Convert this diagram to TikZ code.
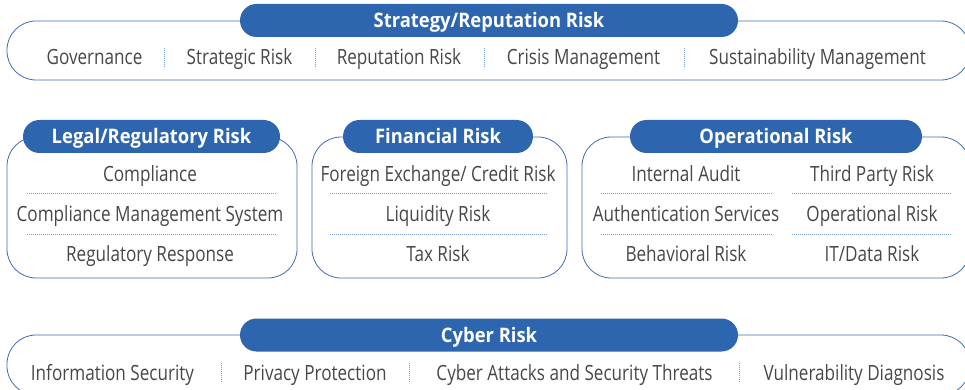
\documentclass[tikz,border=0pt]{standalone}
\usepackage{fontspec}
\setmainfont{Open Sans}[FakeStretch=0.815]
\newfontfamily\headfont{Open Sans}[FakeStretch=0.92]
\usetikzlibrary{positioning}
\definecolor{riskblue}{HTML}{2D66AF}
\definecolor{lineblue}{HTML}{3C6EB4}
\definecolor{dotblue}{HTML}{7E9FD3}
\definecolor{textgray}{HTML}{474747}

\begin{document}
\begin{tikzpicture}[
    x=1pt, y=-1pt,
    frame/.style={draw=lineblue, line width=0.8pt, rounded corners=29pt},
    cathead/.style={fill=riskblue, text=white, rounded corners=16.5pt,
                    minimum height=33pt, inner sep=0pt, text height=16pt, text depth=2pt,
                    font=\headfont\fontsize{20}{24}\selectfont\bfseries},
    item/.style={text=textgray, anchor=base, inner sep=0pt,
                 font=\fontsize{21}{25}\selectfont},
    sep/.style={draw=dotblue, line width=0.9pt, dash pattern=on 0.9pt off 1.1pt},
  ]
  \useasboundingbox (0,0) rectangle (965,390);

  % outlines
  \draw[frame] (7,21) rectangle (970,80);
  \draw[frame] (7,137) rectangle (297,278);
  \draw[frame] (312,137) rectangle (567,278);
  \draw[frame] (582,137) rectangle (970,278);
  \draw[frame] (7,335) rectangle (970,395);

  % strategy / reputation
  \node[cathead, minimum width=498pt] (strat) at (489,20.5) {Strategy/Reputation Risk};
  \node[item] (gov) at (94.5,65) {Governance};
  \node[item] (strisk) at (239.5,65) {Strategic Risk};
  \node[item] (reprisk) at (399,65) {Reputation Risk};
  \node[item] (crisis) at (583.5,65) {Crisis Management};
  \node[item] (sustain) at (817.5,65) {Sustainability Management};
  \foreach \x in {164,315,484,684}
    \draw[sep] (\x,48) -- (\x,68);

  % legal / regulatory
  \node[cathead, minimum width=257pt] (legal) at (151.5,136.5) {Legal/Regulatory Risk};
  \node[item] (compl) at (150,181) {Compliance};
  \node[item] (cms) at (150,221.5) {Compliance Management System};
  \node[item] (regresp) at (150,261.5) {Regulatory Response};
  \foreach \y in {193,234}
    \draw[sep] (27,\y) -- (277,\y);

  % financial
  \node[cathead, minimum width=190pt] (fin) at (438,136.5) {Financial Risk};
  \node[item] (fxcredit) at (438,181) {Foreign Exchange/ Credit Risk};
  \node[item] (liquid) at (438,221.5) {Liquidity Risk};
  \node[item] (tax) at (438,261.5) {Tax Risk};
  \foreach \y in {193,234}
    \draw[sep] (330,\y) -- (547,\y);

  % operational
  \node[cathead, minimum width=292pt] (oper) at (776,136.5) {Operational Risk};
  \node[item] (audit) at (686,181) {Internal Audit};
  \node[item] (auth) at (686,221.5) {Authentication Services};
  \node[item] (behav) at (686,261.5) {Behavioral Risk};
  \node[item] (third) at (872,181) {Third Party Risk};
  \node[item] (operrisk) at (872,221.5) {Operational Risk};
  \node[item] (itdata) at (872,261.5) {IT/Data Risk};
  \foreach \y in {193,234} {
    \draw[sep] (601,\y) -- (773,\y);
    \draw[sep] (792,\y) -- (952,\y);
  }

  % cyber
  \node[cathead, minimum width=498pt] (cyber) at (489,335) {Cyber Risk};
  \node[item] (infosec) at (112.5,380) {Information Security};
  \node[item] (privacy) at (315,380) {Privacy Protection};
  \node[item] (attacks) at (574.5,380) {Cyber Attacks and Security Threats};
  \node[item] (vuln) at (854,380) {Vulnerability Diagnosis};
  \foreach \x in {221,409,739}
    \draw[sep] (\x,363) -- (\x,382);

\end{tikzpicture}
\end{document}
